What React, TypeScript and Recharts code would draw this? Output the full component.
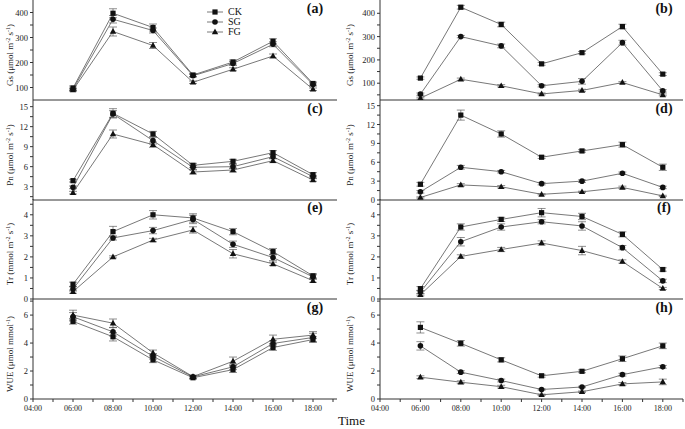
import React from 'react';
import { LineChart, Line, XAxis, YAxis, ErrorBar, Legend, Label } from 'recharts';

const FONT = '"Liberation Serif", "DejaVu Serif", serif';
const LINE = '#555';
const INK = '#111';

// sampling times (hour of day)
const times = [6, 8, 10, 12, 14, 16, 18];
const hourTicks = [4, 5, 6, 7, 8, 9, 10, 11, 12, 13, 14, 15, 16, 17, 18, 19];
const timeLabels = ['04:00', '06:00', '08:00', '10:00', '12:00', '14:00', '16:00', '18:00'];
const treatments = ['CK', 'SG', 'FG'];

// (a) Gs, left
const gsL_CK = [98, 397, 340, 150, 202, 285, 116];
const gsL_SG = [93, 373, 328, 147, 196, 273, 112];
const gsL_FG = [90, 324, 268, 121, 173, 226, 93];
const gsL_CKErr = [8, 18, 14, 6, 8, 10, 6];
const gsL_SGErr = [5, 15, 10, 5, 8, 10, 6];
const gsL_FGErr = [5, 18, 12, 5, 6, 8, 5];

// (b) Gs, right
const gsR_CK = [122, 426, 352, 183, 231, 343, 139];
const gsR_SG = [53, 300, 260, 89, 108, 274, 67];
const gsR_FG = [36, 117, 89, 54, 69, 103, 50];
const gsR_CKErr = [5, 8, 10, 6, 5, 10, 6];
const gsR_SGErr = [5, 5, 8, 5, 12, 10, 5];
const gsR_FGErr = [4, 5, 5, 4, 5, 4, 4];

// (c) Pn, left
const pnL_CK = [3.9, 14.0, 10.9, 6.2, 6.8, 8.1, 4.8];
const pnL_SG = [2.9, 13.9, 9.9, 5.9, 6.0, 7.5, 4.5];
const pnL_FG = [2.1, 10.9, 9.3, 5.2, 5.5, 6.9, 4.0];
const pnL_CKErr = [0.2, 0.7, 0.4, 0.3, 0.3, 0.3, 0.3];
const pnL_SGErr = [0.2, 0.5, 0.5, 0.3, 0.3, 0.3, 0.2];
const pnL_FGErr = [0.2, 0.6, 0.4, 0.3, 0.3, 0.3, 0.2];

// (d) Pn, right
const pnR_CK = [2.5, 13.5, 10.5, 6.8, 7.8, 8.8, 5.2];
const pnR_SG = [1.3, 5.2, 4.5, 2.6, 3.0, 4.25, 2.0];
const pnR_FG = [0.4, 2.4, 2.1, 0.9, 1.3, 2.0, 0.65];
const pnR_CKErr = [0.3, 0.8, 0.5, 0.2, 0.2, 0.4, 0.5];
const pnR_SGErr = [0.2, 0.3, 0.2, 0.2, 0.2, 0.2, 0.2];
const pnR_FGErr = [0.1, 0.2, 0.2, 0.1, 0.1, 0.2, 0.1];

// (e) Tr, left
const trL_CK = [0.7, 3.2, 4.0, 3.85, 3.2, 2.25, 1.1];
const trL_SG = [0.48, 2.9, 3.25, 3.78, 2.6, 1.97, 1.05];
const trL_FG = [0.35, 2.0, 2.8, 3.28, 2.15, 1.67, 0.87];
const trL_CKErr = [0.1, 0.25, 0.2, 0.2, 0.15, 0.15, 0.1];
const trL_SGErr = [0.1, 0.1, 0.15, 0.2, 0.15, 0.15, 0.1];
const trL_FGErr = [0.08, 0.05, 0.08, 0.15, 0.2, 0.08, 0.08];

// (f) Tr, right
const trR_CK = [0.49, 3.42, 3.78, 4.1, 3.92, 3.07, 1.4];
const trR_SG = [0.33, 2.72, 3.42, 3.67, 3.47, 2.44, 0.86];
const trR_FG = [0.2, 2.02, 2.35, 2.66, 2.3, 1.78, 0.5];
const trR_CKErr = [0.1, 0.15, 0.1, 0.2, 0.15, 0.12, 0.08];
const trR_SGErr = [0.08, 0.2, 0.15, 0.1, 0.2, 0.1, 0.08];
const trR_FGErr = [0.05, 0.08, 0.1, 0.1, 0.2, 0.08, 0.05];

// (g) WUE, left
const wueL_CK = [5.55, 4.45, 2.8, 1.52, 2.1, 3.68, 4.25];
const wueL_SG = [5.88, 4.8, 3.05, 1.58, 2.3, 3.97, 4.4];
const wueL_FG = [6.0, 5.42, 3.3, 1.6, 2.7, 4.27, 4.57];
const wueL_CKErr = [0.2, 0.3, 0.2, 0.1, 0.2, 0.2, 0.2];
const wueL_SGErr = [0.3, 0.3, 0.2, 0.1, 0.2, 0.2, 0.3];
const wueL_FGErr = [0.35, 0.3, 0.2, 0.1, 0.3, 0.3, 0.25];

// (h) WUE, right
const wueR_CK = [5.12, 3.98, 2.8, 1.66, 1.98, 2.88, 3.8];
const wueR_SG = [3.8, 1.92, 1.32, 0.68, 0.86, 1.74, 2.3];
const wueR_FG = [1.56, 1.2, 0.88, 0.3, 0.52, 1.08, 1.22];
const wueR_CKErr = [0.4, 0.2, 0.15, 0.1, 0.1, 0.2, 0.2];
const wueR_SGErr = [0.3, 0.1, 0.1, 0.05, 0.05, 0.1, 0.1];
const wueR_FGErr = [0.1, 0.1, 0.1, 0.05, 0.05, 0.1, 0.2];

// tick labels
const gsMajor = [100, 200, 300, 400];
const gsMinorL = [150, 250, 350];
const gsMinorR = [50, 150, 250, 350];
const pnMajorL = [3, 6, 9, 12, 15];
const pnMajorR = [0, 3, 6, 9, 12, 15];
const pnMinor = [1.5, 4.5, 7.5, 10.5, 13.5];
const trMajor = [0, 1, 2, 3, 4];
const trMinor = [0.5, 1.5, 2.5, 3.5, 4.5];
const wueMajor = [0, 2, 4, 6];
const wueMinor = [1, 3, 5, 7];

const gsTitle: [string, boolean][] = [['Gs  (μmol m', false], ['-2', true], [' s', false], ['-1', true], [')', false]];
const pnTitle: [string, boolean][] = [['Pn  (μmol m', false], ['-2', true], [' s', false], ['-1', true], [')', false]];
const trTitle: [string, boolean][] = [['Tr  (mmol m', false], ['-2', true], [' s', false], ['-1', true], [')', false]];
const wueTitle: [string, boolean][] = [['WUE  (μmol mmol', false], ['-1', true], [')', false]];

const rowTops = [0, 100, 199, 299];
const shapes = ['square', 'circle', 'triangle'];

const panels = [
  { id: 'a', col: 0, row: 0, ck: gsL_CK, sg: gsL_SG, fg: gsL_FG, ckErr: gsL_CKErr, sgErr: gsL_SGErr, fgErr: gsL_FGErr, domain: [50, 450], major: gsMajor, minor: gsMinorL, title: gsTitle },
  { id: 'b', col: 1, row: 0, ck: gsR_CK, sg: gsR_SG, fg: gsR_FG, ckErr: gsR_CKErr, sgErr: gsR_SGErr, fgErr: gsR_FGErr, domain: [28, 457], major: gsMajor, minor: gsMinorR, title: gsTitle },
  { id: 'c', col: 0, row: 1, ck: pnL_CK, sg: pnL_SG, fg: pnL_FG, ckErr: pnL_CKErr, sgErr: pnL_SGErr, fgErr: pnL_FGErr, domain: [1, 16], major: pnMajorL, minor: pnMinor, title: pnTitle },
  { id: 'd', col: 1, row: 1, ck: pnR_CK, sg: pnR_SG, fg: pnR_FG, ckErr: pnR_CKErr, sgErr: pnR_SGErr, fgErr: pnR_FGErr, domain: [0, 15.9], major: pnMajorR, minor: pnMinor, title: pnTitle },
  { id: 'e', col: 0, row: 2, ck: trL_CK, sg: trL_SG, fg: trL_FG, ckErr: trL_CKErr, sgErr: trL_SGErr, fgErr: trL_FGErr, domain: [0, 4.75], major: trMajor, minor: trMinor, title: trTitle },
  { id: 'f', col: 1, row: 2, ck: trR_CK, sg: trR_SG, fg: trR_FG, ckErr: trR_CKErr, sgErr: trR_SGErr, fgErr: trR_FGErr, domain: [0, 4.75], major: trMajor, minor: trMinor, title: trTitle },
  { id: 'g', col: 0, row: 3, ck: wueL_CK, sg: wueL_SG, fg: wueL_FG, ckErr: wueL_CKErr, sgErr: wueL_SGErr, fgErr: wueL_FGErr, domain: [0, 7.15], major: wueMajor, minor: wueMinor, title: wueTitle },
  { id: 'h', col: 1, row: 3, ck: wueR_CK, sg: wueR_SG, fg: wueR_FG, ckErr: wueR_CKErr, sgErr: wueR_SGErr, fgErr: wueR_FGErr, domain: [0, 7.15], major: wueMajor, minor: wueMinor, title: wueTitle },
];

function Marker({ shape, x, y }: { shape: string; x: number; y: number }) {
  if (shape === 'square') return <rect x={x - 2.6} y={y - 2.6} width={5.2} height={5.2} fill={INK} />;
  if (shape === 'circle') return <circle cx={x} cy={y} r={2.8} fill={INK} />;
  return <polygon points={`${x},${y - 3.4} ${x - 3.2},${y + 2.3} ${x + 3.2},${y + 2.3}`} fill={INK} />;
}

const makeDot = (shape: string) => (props: any) => {
  const { cx, cy, index } = props;
  if (cx == null || cy == null) return <g key={index} />;
  return <Marker key={index} shape={shape} x={cx} y={cy} />;
};

const YTick = (major: number[]) => (props: any) => {
  const { x, y, payload } = props;
  if (!major.includes(payload.value)) return <g />;
  return (
    <text x={x} y={y} dy={3} textAnchor="end" fontSize={8.5} fill="#222" fontFamily={FONT}>
      {payload.value}
    </text>
  );
};

const TimeTick = (props: any) => {
  const { x, y, payload } = props;
  const h = payload.value;
  if (h % 2 !== 0) return <g />;
  return (
    <text x={x} y={y} dy={7} textAnchor="middle" fontSize={8} fill="#222" fontFamily={FONT}>
      {timeLabels[(h - 4) / 2]}
    </text>
  );
};

const YTitle = (segs: [string, boolean][], tx: number) => (props: any) => {
  const vb = props.viewBox || {};
  const cy = (vb.y ?? 0) + (vb.height ?? 100) / 2 + 5;
  return (
    <text x={tx} y={cy} transform={`rotate(-90, ${tx}, ${cy})`} textAnchor="middle" fontSize={9} fill="#222" fontFamily={FONT}>
      {segs.map(([s, sup], i) => (
        <tspan key={i} fontSize={sup ? 6 : 9} dy={sup ? -3.5 : i > 0 && segs[i - 1][1] ? 3.5 : 0}>
          {s}
        </tspan>
      ))}
    </text>
  );
};

const renderLegend = () => (
  <div style={{ fontFamily: FONT, fontSize: 10, color: '#111' }}>
    {treatments.map((name, i) => (
      <div key={name} style={{ display: 'flex', alignItems: 'center', height: 10 }}>
        <svg width={16} height={10}>
          <line x1={0} x2={16} y1={5} y2={5} stroke={LINE} strokeWidth={0.8} />
          <Marker shape={shapes[i]} x={8} y={5} />
        </svg>
        <span style={{ marginLeft: 5, lineHeight: '10px' }}>{name}</span>
      </div>
    ))}
  </div>
);

function Panel({ p }: { p: (typeof panels)[number] }) {
  const bottom = p.row === 3;
  const left = p.col === 0 ? 0 : 345;
  const width = p.col === 0 ? 345 : 340;
  const height = bottom ? 130 : 101;
  const data = times.map((t, i) => ({
    t,
    CK: p.ck[i],
    SG: p.sg[i],
    FG: p.fg[i],
    ckErr: p.ckErr[i],
    sgErr: p.sgErr[i],
    fgErr: p.fgErr[i],
  }));
  const yTicks = [...p.major, ...p.minor].filter((v) => v >= p.domain[0] && v <= p.domain[1]).sort((a, b) => a - b);
  const errKeys = ['ckErr', 'sgErr', 'fgErr'];
  return (
    <div style={{ position: 'absolute', left, top: rowTops[p.row], width, height, zIndex: 4 - p.row }}>
      <LineChart width={width} height={height} data={data} margin={{ top: 0, right: p.col === 0 ? 8 : 2, bottom: 0, left: 0 }} style={{ overflow: 'visible' }}>
        <XAxis
          type="number"
          dataKey="t"
          domain={p.col === 0 ? [4, 19.2] : [4, 19]}
          ticks={hourTicks}
          interval={0}
          allowDataOverflow
          height={bottom ? 30 : 1}
          tick={bottom ? TimeTick : false}
          tickLine={bottom ? { stroke: '#333' } : false}
          tickSize={3}
          axisLine={{ stroke: '#333', strokeWidth: 1 }}
        />
        <YAxis
          type="number"
          domain={p.domain}
          ticks={yTicks}
          interval={0}
          allowDataOverflow
          width={p.col === 0 ? 33 : 35}
          tick={YTick(p.major)}
          tickLine={{ stroke: '#333' }}
          tickSize={3}
          axisLine={{ stroke: '#333', strokeWidth: 1 }}
        >
          <Label content={YTitle(p.title, p.col === 0 ? 13 : 8)} />
        </YAxis>
        {p.id === 'a' && (
          <Legend layout="vertical" align="center" verticalAlign="middle" wrapperStyle={{ left: 207, top: 7, width: 60 }} content={renderLegend} />
        )}
        {treatments.map((name, i) => (
          <Line
            key={name}
            dataKey={name}
            stroke={LINE}
            strokeWidth={0.8}
            dot={makeDot(shapes[i])}
            activeDot={false}
            isAnimationActive={false}
          >
            <ErrorBar dataKey={errKeys[i]} direction="y" width={4} stroke="#444" strokeWidth={0.6} />
          </Line>
        ))}
      </LineChart>
    </div>
  );
}

export default function App() {
  return (
    <div style={{ position: 'absolute', left: 0, top: 0, width: 685, height: 429, background: '#fff', overflow: 'hidden' }}>
      <style>{'.recharts-wrapper, .recharts-surface { overflow: visible !important; }'}</style>
      {panels.map((p) => (
        <Panel key={p.id} p={p} />
      ))}
      <svg width={685} height={429} style={{ position: 'absolute', left: 0, top: 0, pointerEvents: 'none', zIndex: 10 }}>
        {panels.map((p) => (
          <text
            key={p.id}
            x={p.col === 0 ? 315 : 664}
            y={rowTops[p.row] + 13}
            textAnchor="middle"
            fontSize={14}
            fontWeight="bold"
            fill="#111"
            fontFamily={FONT}
          >
            ({p.id})
          </text>
        ))}
        <text x={338} y={425} fontSize={13} fill="#111" fontFamily={FONT}>
          Time
        </text>
      </svg>
    </div>
  );
}
